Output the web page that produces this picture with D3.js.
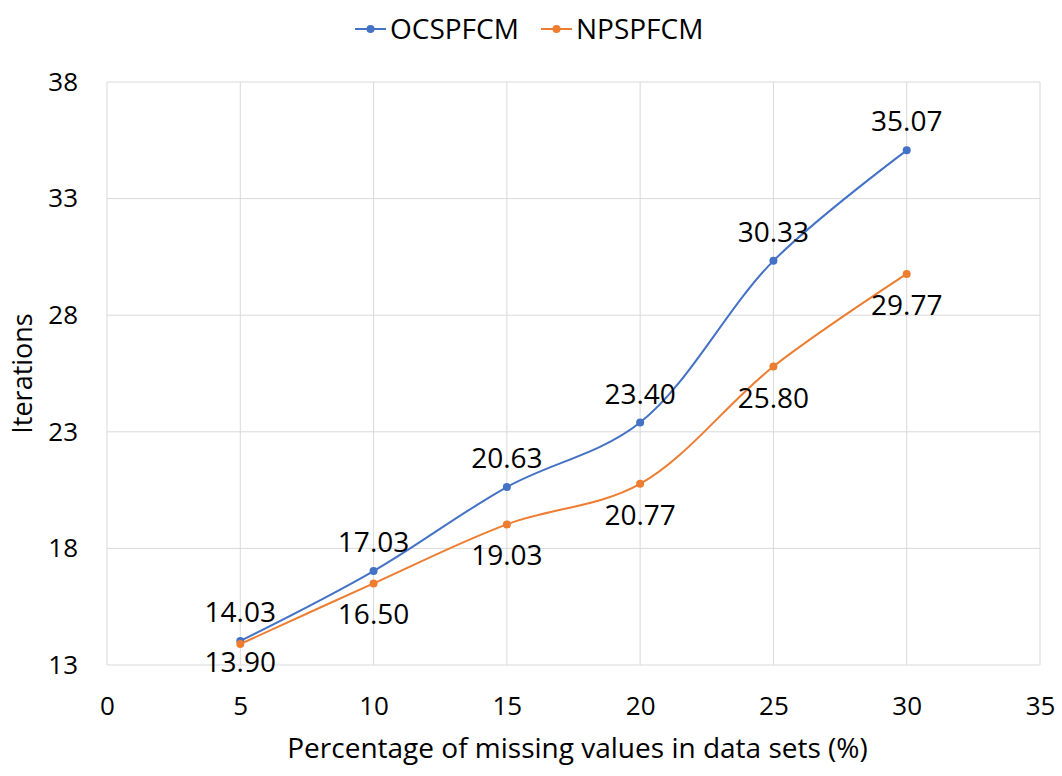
<!DOCTYPE html>
<html>
<head>
<meta charset="utf-8">
<script src="https://cdn.jsdelivr.net/npm/d3@7"></script>
<style>
  body { margin: 0; background: #fff; }
  text { font-family: "Open Sans", sans-serif; fill: #000; }
</style>
</head>
<body>
<div id="chart"></div>
<script>
const xValues = [5, 10, 15, 20, 25, 30];
const ocspfcm = [14.03, 17.03, 20.63, 23.40, 30.33, 35.07];
const npspfcm = [13.90, 16.50, 19.03, 20.77, 25.80, 29.77];
const xTicks = [0, 5, 10, 15, 20, 25, 30, 35];
const yTicks = [13, 18, 23, 28, 33, 38];
const seriesNames = ["OCSPFCM", "NPSPFCM"];
const seriesColors = ["#4472C4", "#ED7D31"];

const W = 1062, H = 776;
const plot = { left: 107, top: 82, right: 1040, bottom: 665 };

const svg = d3.select("#chart").append("svg")
    .attr("width", W)
    .attr("height", H);

const x = d3.scaleLinear().domain([0, 35]).range([plot.left, plot.right]);
const y = d3.scaleLinear().domain([13, 38]).range([plot.bottom, plot.top]);

// Gridlines
svg.append("g")
    .selectAll("line.vg")
    .data(xTicks)
    .join("line")
    .attr("x1", d => x(d)).attr("x2", d => x(d))
    .attr("y1", plot.top).attr("y2", plot.bottom)
    .attr("stroke", "#d9d9d9").attr("stroke-width", 1);

svg.append("g")
    .selectAll("line.hg")
    .data(yTicks)
    .join("line")
    .attr("x1", plot.left).attr("x2", plot.right)
    .attr("y1", d => y(d)).attr("y2", d => y(d))
    .attr("stroke", "#d9d9d9").attr("stroke-width", 1);

// Axes (labels only)
const xAxis = svg.append("g")
    .attr("transform", `translate(0,${plot.bottom})`)
    .call(d3.axisBottom(x).tickValues(xTicks).tickSize(0).tickPadding(32));
xAxis.select(".domain").remove();
xAxis.selectAll("text").style("font-size", "26px").attr("dy", "0.71em");

const yAxis = svg.append("g")
    .attr("transform", `translate(${plot.left},0)`)
    .call(d3.axisLeft(y).tickValues(yTicks).tickSize(0).tickPadding(29));
yAxis.select(".domain").remove();
yAxis.selectAll("text").style("font-size", "26px");

// Axis titles
svg.append("text")
    .attr("x", (plot.left + plot.right) / 2 + 4)
    .attr("y", 758)
    .attr("text-anchor", "middle")
    .style("font-size", "28px")
    .text("Percentage of missing values in data sets (%)");

svg.append("text")
    .attr("transform", `translate(32,${(plot.top + plot.bottom) / 2}) rotate(-90)`)
    .attr("text-anchor", "middle")
    .style("font-size", "27px")
    .text("Iterations");

// Series
const series = [ocspfcm, npspfcm];
const line = d3.line()
    .x((d, i) => x(xValues[i]))
    .y(d => y(d))
    .curve(d3.curveCatmullRom.alpha(0.5));

series.forEach((vals, s) => {
    svg.append("path")
        .datum(vals)
        .attr("fill", "none")
        .attr("stroke", seriesColors[s])
        .attr("stroke-width", 2)
        .attr("d", line);

    svg.append("g")
        .selectAll("circle")
        .data(vals)
        .join("circle")
        .attr("cx", (d, i) => x(xValues[i]))
        .attr("cy", d => y(d))
        .attr("r", 4)
        .attr("fill", seriesColors[s]);

    // Data labels: first series above, second below
    svg.append("g")
        .selectAll("text")
        .data(vals)
        .join("text")
        .attr("x", (d, i) => x(xValues[i]))
        .attr("y", d => s === 0 ? y(d) - 29 : Math.min(y(d) + 31, plot.bottom - 3))
        .attr("dy", "0.36em")
        .attr("text-anchor", "middle")
        .style("font-size", "28px")
        .text(d => d.toFixed(2));
});

// Legend
const legend = svg.append("g");
const legendX = [355, 541];
seriesNames.forEach((name, s) => {
    const g = legend.append("g").attr("transform", `translate(${legendX[s]},29)`);
    g.append("line")
        .attr("x1", 0).attr("x2", 31)
        .attr("stroke", seriesColors[s]).attr("stroke-width", 2);
    g.append("circle").attr("cx", 15.5).attr("r", 4).attr("fill", seriesColors[s]);
    g.append("text")
        .attr("x", 35)
        .attr("dy", "0.36em")
        .style("font-size", "28px")
        .text(name);
});
</script>
</body>
</html>
